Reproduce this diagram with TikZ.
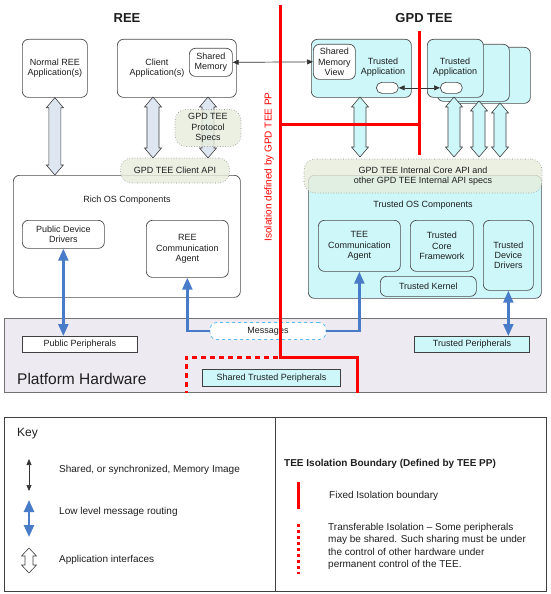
\documentclass[tikz,border=0pt]{standalone}
\usepackage{fontspec}
\setmainfont{Liberation Sans}
\usetikzlibrary{arrows.meta,calc}
\definecolor{tcyan}{RGB}{206,247,250}
\definecolor{cloudg}{RGB}{230,237,220}
\definecolor{reearr}{RGB}{222,230,242}
\definecolor{hwfill}{RGB}{237,234,242}
\definecolor{bluearr}{RGB}{72,124,200}
\definecolor{msgblue}{RGB}{90,190,240}
\definecolor{isored}{RGB}{255,0,0}
\definecolor{txt}{RGB}{30,30,30}
% hollow double arrow: #1 top coord, #2 bottom coord, #3 fill, #4 shaft half width, #5 head half width, #6 head length
\newcommand\hollowarr[6]{%
  \filldraw[fill=#3, draw=black!75, line width=0.6pt, line join=miter]
    let \p1=(#1), \p2=(#2) in
    (\x1,\y1) -- (\x1+#5,\y1-#6) -- (\x1+#4,\y1-#6) -- (\x1+#4,\y2+#6) -- (\x1+#5,\y2+#6)
    -- (\x1,\y2) -- (\x1-#5,\y2+#6) -- (\x1-#4,\y2+#6) -- (\x1-#4,\y1-#6) -- (\x1-#5,\y1-#6) -- cycle;}
\begin{document}
\begin{tikzpicture}[x=1pt,y=-1pt,
  every node/.style={text=txt},
  fnt/.style={font=\fontsize{9}{10.4}\selectfont},
  box/.style={fnt, draw=black!70, line width=0.7pt, rounded corners=6pt, fill=white, align=center, inner sep=1pt, anchor=north west},
  cbox/.style={box, fill=tcyan},
  lbl/.style={fnt, align=center, inner sep=0pt},
  cloudbox/.style={fnt, draw=black!45, dotted, line width=0.6pt, rounded corners=11pt, fill=cloudg, fill opacity=0.8, text opacity=1, align=center, inner sep=1pt},
  periph/.style={fnt, draw=black!75, line width=0.9pt, fill=white, anchor=north west, inner sep=1pt},
  blu/.style={draw=bluearr, line width=2.4pt, line join=miter, {Triangle[width=10pt,length=12pt]}-{Triangle[width=10pt,length=12pt]}},
  bluone/.style={draw=bluearr, line width=2.4pt, line join=miter, -{Triangle[width=10pt,length=12pt]}},
  blk/.style={draw=black!80, line width=0.7pt, {Triangle[width=5pt,length=6pt]}-{Triangle[width=5pt,length=6pt]}},
  redline/.style={draw=isored, line width=3pt, line join=miter},
  reddash/.style={draw=isored, line width=3pt, dash pattern=on 5pt off 4pt},
  keytext/.style={font=\fontsize{10}{12.3}\selectfont, anchor=west, inner sep=0pt, align=left}
]
\useasboundingbox (0,0) rectangle (550,594);
\fill[white] (0,0) rectangle (550,594);

% titles
\node[font=\bfseries\fontsize{13}{15}\selectfont] (reetitle) at (127,18) {REE};
\node[font=\bfseries\fontsize{13}{15}\selectfont] (teetitle) at (424,18) {GPD TEE};

% platform hardware
\node[draw=black!55, line width=0.7pt, fill=hwfill, minimum width=542, minimum height=74, anchor=north west, inner sep=0pt] (hw) at (4,318) {};
\node[font=\fontsize{15.5}{18}\selectfont, anchor=west, inner sep=0pt] (hwlbl) at (17,379) {Platform Hardware};
\node[periph, minimum width=115, minimum height=16] (pubper) at (22,336) {Public Peripherals};
\node[periph, fill=tcyan, minimum width=115, minimum height=16] (trper) at (414,336) {Trusted Peripherals};
\node[periph, fill=tcyan, minimum width=138, minimum height=17] (shper) at (202,369) {Shared Trusted Peripherals};

% REE side
\node[box, minimum width=65, minimum height=58] (normal) at (22,39) {Normal REE\\Application(s)};
\node[box, minimum width=119, minimum height=58] (client) at (117,39) {};
\node[lbl] (clientlbl) at (157,68) {Client\\Application(s)};
\node[box, minimum width=43, minimum height=28] (smem) at (189,48) {Shared\\Memory};

\node[box, minimum width=227, minimum height=122] (richos) at (13,175) {};
\node[lbl] (richoslbl) at (127,200) {Rich OS Components};
\node[box, minimum width=82, minimum height=28] (pdd) at (22,220) {Public Device\\Drivers};
\node[box, minimum width=82, minimum height=57] (reeagent) at (146,220) {REE\\Communication\\Agent};

% REE application interfaces
\coordinate (ca1) at (153,97);
\coordinate (ca2) at (208,97);
\coordinate (napi) at (54.5,175);
\hollowarr{normal.south}{napi}{reearr}{6pt}{8.5pt}{10pt}
\hollowarr{ca1}{$(ca1)+(0,61)$}{reearr}{6pt}{8.5pt}{10pt}
\hollowarr{ca2}{$(ca2)+(0,61)$}{reearr}{6pt}{8.5pt}{10pt}

\node[cloudbox, minimum width=66, minimum height=37] (proto) at (208,128) {GPD TEE\\Protocol\\Specs};
\node[cloudbox, minimum width=109, minimum height=25] (capi) at (175,170.5) {GPD TEE Client API};

% TEE side
\node[cbox, minimum width=83, minimum height=56] (ta3) at (447,47) {};
\node[cbox, minimum width=72, minimum height=57] (ta2) at (437,44) {};
\node[cbox, minimum width=56, minimum height=58] (ta1) at (427,39) {};
\node[lbl] (ta1lbl) at (455,67) {Trusted\\Application};
\node[box, rounded corners=5.5pt, minimum width=22, minimum height=11] (oval2) at (440,82) {};

\node[cbox, minimum width=100, minimum height=58] (ta0) at (311,39) {};
\node[box, minimum width=42, minimum height=35] (smv) at (313,44) {Shared\\Memory\\View};
\node[lbl] (ta0lbl) at (383,67) {Trusted\\Application};
\node[box, rounded corners=5.5pt, minimum width=22, minimum height=11] (oval1) at (376,82) {};

\node[cbox, minimum width=233, minimum height=123] (tos) at (308,175) {};
\node[lbl] (toslbl) at (423,205) {Trusted OS Components};
\node[cbox, minimum width=82, minimum height=51] (teeagent) at (318,220) {TEE\\Communication\\Agent};
\node[cbox, minimum width=63, minimum height=51] (tcf) at (410,220) {Trusted\\Core\\Framework};
\node[cbox, minimum width=50, minimum height=70] (tdd) at (483,220) {Trusted\\Device\\Drivers};
\node[cbox, minimum width=96, minimum height=20] (tk) at (380,276) {Trusted Kernel};

% TEE application interfaces
\coordinate (t0) at (360,97);
\coordinate (t1) at (454,97);
\coordinate (t2) at (479,101);
\coordinate (t3) at (500,103);
\hollowarr{t0}{$(t0 |- 0,157)$}{tcyan}{6pt}{8.5pt}{10pt}
\hollowarr{t1}{$(t1 |- 0,157)$}{tcyan}{6pt}{8.5pt}{10pt}
\hollowarr{t2}{$(t2 |- 0,157)$}{tcyan}{6pt}{8.5pt}{10pt}
\hollowarr{t3}{$(t3 |- 0,157)$}{tcyan}{6pt}{8.5pt}{10pt}

\node[cloudbox, minimum width=238, minimum height=34] (iapi) at (423,176) {GPD TEE Internal Core API and\\other GPD TEE Internal API specs};

% shared memory arrows
\draw[blk] (smem.east) -- (smv.west);
\draw[blk] (oval1.east) -- (oval2.west);

% messages
\node[fnt, draw=msgblue, dashed, line width=0.8pt, rounded corners=7pt, fill=white, minimum width=116, minimum height=17, inner sep=1pt] (msg) at (268,331) {Messages};

% red isolation boundary
\draw[redline] (280,5) -- (280,357) -- (357,357) -- (357,393);
\draw[redline] (280,124) -- (419,124);
\draw[redline] (419,31) -- (419,155);
\draw[reddash] (278,357) -- (186,357) -- (186,393);
\node[text=isored, font=\fontsize{10}{12}\selectfont, rotate=90, inner sep=0pt] (isolbl) at (269,167) {Isolation defined by GPD TEE PP};

% message routing
\draw[blu] (pdd.south) -- (pdd.south |- pubper.north);
\draw[blu] (tdd.south) -- (tdd.south |- trper.north);
\draw[bluone] (msg.west) -| (reeagent.south);
\draw[bluone] (msg.east) -| (teeagent.south);

% key
\node[draw=black!75, line width=0.8pt, minimum width=542, minimum height=174, anchor=north west, inner sep=0pt] (keybox) at (4,417) {};
\draw[black!75, line width=0.8pt] (keybox.north) ++(0,0) coordinate (kdtop) (275,417) coordinate (kd1) (275,591) coordinate (kd2);
\draw[black!75, line width=0.8pt] (kd1) -- (kd2);
\node[font=\fontsize{12}{14}\selectfont, anchor=west, inner sep=0pt] (keylbl) at (17,434) {Key};
\coordinate (k1a) at (29,459); \coordinate (k1b) at (29,491);
\draw[blk] (k1a) -- (k1b);
\node[keytext] (k1t) at (59,470) {Shared, or synchronized, Memory Image};
\coordinate (k2a) at (29,500); \coordinate (k2b) at (29,537);
\draw[blu] (k2a) -- (k2b);
\node[keytext] (k2t) at (59,512) {Low level message routing};
\coordinate (k3a) at (29,548); \coordinate (k3b) at (29,573);
\hollowarr{k3a}{k3b}{white}{4pt}{7.5pt}{8pt}
\node[keytext] (k3t) at (59,560) {Application interfaces};

\node[font=\bfseries\fontsize{10}{12}\selectfont, anchor=west, inner sep=0pt] (isotitle) at (284,464) {TEE Isolation Boundary (Defined by TEE PP)};
\coordinate (r1a) at (298,482); \coordinate (r1b) at (298,509);
\draw[draw=isored, line width=3pt] (r1a) -- (r1b);
\node[keytext] (r1t) at (329,496) {Fixed Isolation boundary};
\coordinate (r2a) at (298,524); \coordinate (r2b) at (298,574);
\draw[draw=isored, line width=3pt, dash pattern=on 3pt off 3pt] (r2a) -- (r2b);
\node[keytext, anchor=north west] (r2t) at (328,523) {Transferable Isolation -- Some peripherals\\may be shared. Such sharing must be under\\the control of other hardware under\\permanent control of the TEE.};
\end{tikzpicture}
\end{document}
